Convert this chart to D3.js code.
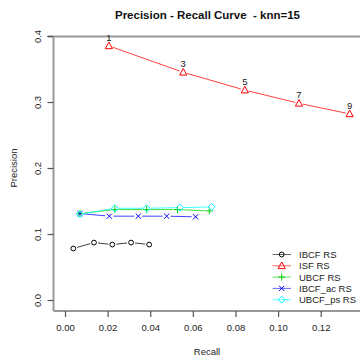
<!DOCTYPE html>
<html>
<head>
<meta charset="utf-8">
<script src="https://cdn.jsdelivr.net/npm/d3@7"></script>
<style>
  html, body { margin: 0; padding: 0; background: #fff; }
  svg { display: block; font-family: "Liberation Sans", Arial, sans-serif; }
  text { white-space: pre; }
</style>
</head>
<body>
<svg id="chart" width="360" height="357"></svg>
<script>
// Precision / recall pairs for each recommender, top-N = 1,3,5,7,9
const seriesNames = ["IBCF RS", "ISF RS", "UBCF RS", "IBCF_ac RS", "UBCF_ps RS"];
const ibcfRecall     = [0.0039, 0.0136, 0.0222, 0.0310, 0.0395];
const ibcfPrecision  = [0.078, 0.087, 0.084, 0.087, 0.084];
const isfRecall      = [0.0206, 0.0555, 0.0844, 0.1098, 0.1336];
const isfPrecision   = [0.385, 0.345, 0.318, 0.298, 0.282];
const ubcfRecall     = [0.0070, 0.0234, 0.0383, 0.0528, 0.0677];
const ubcfPrecision  = [0.131, 0.137, 0.137, 0.137, 0.135];
const ibcfAcRecall   = [0.0070, 0.0208, 0.0344, 0.0477, 0.0613];
const ibcfAcPrecision= [0.131, 0.127, 0.127, 0.127, 0.126];
const ubcfPsRecall   = [0.0070, 0.0234, 0.0383, 0.0539, 0.0688];
const ubcfPsPrecision= [0.130, 0.139, 0.139, 0.140, 0.141];
const nLabels = ["1", "3", "5", "7", "9"];
const xTicks = [0, 0.02, 0.04, 0.06, 0.08, 0.10, 0.12];
const yTicks = [0, 0.1, 0.2, 0.3, 0.4];

const colors = ["#000000", "#FF0000", "#00CD00", "#0000FF", "#00FFFF"];
const shapes = ["circle", "triangle", "plus", "cross", "diamond"];

const series = [
  [ibcfRecall, ibcfPrecision],
  [isfRecall, isfPrecision],
  [ubcfRecall, ubcfPrecision],
  [ibcfAcRecall, ibcfAcPrecision],
  [ubcfPsRecall, ubcfPsPrecision]
].map(([r, p], i) => ({
  name: seriesNames[i], color: colors[i], shape: shapes[i],
  pts: r.map((v, j) => ({ x: v, y: p[j] }))
}));

const svg = d3.select("#chart");
const x = d3.scaleLinear().domain([0, 0.12]).range([65, 320.7]);
const y = d3.scaleLinear().domain([0, 0.4]).range([300, 36]);

const frameLeft = 53.5, frameTop = 36.5, frameBottom = 311, frameRight = 362;

// title
svg.append("text").attr("x", 207.5).attr("y", 18.5).attr("text-anchor", "middle")
  .attr("font-size", 11.5).attr("font-weight", "bold").attr("fill", "#111")
  .text("Precision - Recall Curve  - knn=15");

// frame
const frame = svg.append("g").attr("stroke", "#999").attr("stroke-width", 2).attr("fill", "none");
frame.append("line").attr("x1", frameLeft - 6).attr("x2", frameRight).attr("y1", frameTop).attr("y2", frameTop);
frame.append("line").attr("x1", frameLeft).attr("x2", frameLeft).attr("y1", frameTop).attr("y2", frameBottom);
frame.append("line").attr("x1", frameLeft).attr("x2", frameRight).attr("y1", frameBottom).attr("y2", frameBottom);

// axes
const xAxis = svg.append("g").attr("transform", `translate(0,${frameBottom})`)
  .call(d3.axisBottom(x).tickValues(xTicks).tickFormat(d3.format(".2f")).tickSize(6).tickPadding(7));
const yAxis = svg.append("g").attr("transform", `translate(${frameLeft},0)`)
  .call(d3.axisLeft(y).tickValues(yTicks).tickFormat(d3.format(".1f")).tickSize(6).tickPadding(4));
[xAxis, yAxis].forEach(g => {
  g.select(".domain").remove();
  g.selectAll(".tick line").attr("stroke", "#555").attr("stroke-width", 1.2);
  g.selectAll(".tick text").attr("font-size", 9.5).attr("fill", "#222")
    .attr("font-family", "Liberation Sans, Arial, sans-serif");
});
yAxis.selectAll(".tick text")
  .attr("transform", "rotate(-90)")
  .attr("x", 0).attr("y", -13).attr("dy", 0)
  .attr("text-anchor", "middle");

// axis titles
svg.append("text").attr("x", 207).attr("y", 355).attr("text-anchor", "middle")
  .attr("font-size", 9.5).attr("fill", "#222").text("Recall");
svg.append("text").attr("transform", "translate(17,168) rotate(-90)").attr("text-anchor", "middle")
  .attr("font-size", 9.5).attr("fill", "#222").text("Precision");

// marker shapes
function markerPath(shape) {
  const s = 3;
  switch (shape) {
    case "circle": return d3.arc()({ innerRadius: 0, outerRadius: 2.4, startAngle: 0, endAngle: 2 * Math.PI });
    case "triangle": return `M0,${-s - 0.8}L${s + 0.6},${s - 0.2}L${-s - 0.6},${s - 0.2}Z`;
    case "plus": return `M${-s - 0.5},0H${s + 0.5}M0,${-s - 0.5}V${s + 0.5}`;
    case "cross": return `M${-s + 0.4},${-s + 0.4}L${s - 0.4},${s - 0.4}M${-s + 0.4},${s - 0.4}L${s - 0.4},${-s + 0.4}`;
    case "diamond": return `M0,${-s - 0.5}L${s + 0.5},0L0,${s + 0.5}L${-s - 0.5},0Z`;
  }
}

// lines with gaps around each point
const gap = 4;
series.forEach(s => {
  const g = svg.append("g");
  for (let i = 0; i < s.pts.length - 1; i++) {
    const x1 = x(s.pts[i].x), y1 = y(s.pts[i].y), x2 = x(s.pts[i + 1].x), y2 = y(s.pts[i + 1].y);
    const len = Math.hypot(x2 - x1, y2 - y1);
    if (len <= 2 * gap) continue;
    const ux = (x2 - x1) / len, uy = (y2 - y1) / len;
    g.append("line")
      .attr("x1", x1 + ux * gap).attr("y1", y1 + uy * gap)
      .attr("x2", x2 - ux * gap).attr("y2", y2 - uy * gap)
      .attr("stroke", s.color).attr("stroke-width", 1).attr("stroke-opacity", 0.75);
  }
  g.selectAll("path").data(s.pts).join("path")
    .attr("transform", d => `translate(${x(d.x)},${y(d.y)})`)
    .attr("d", markerPath(s.shape))
    .attr("fill", "none").attr("stroke", s.color).attr("stroke-width", 1);
});

// top-N labels on the ISF curve
svg.append("g").selectAll("text").data(series[1].pts).join("text")
  .attr("x", d => x(d.x)).attr("y", d => y(d.y) - 5)
  .attr("text-anchor", "middle").attr("font-size", 9.5).attr("fill", "#222")
  .text((d, i) => nLabels[i]);

// legend
const legend = svg.append("g");
series.forEach((s, i) => {
  const ly = 254.5 + i * 11.3;
  legend.append("line").attr("x1", 272.5).attr("x2", 291).attr("y1", ly).attr("y2", ly)
    .attr("stroke", s.color).attr("stroke-width", 1).attr("stroke-opacity", 0.6);
  legend.append("path").attr("transform", `translate(281.7,${ly})`)
    .attr("d", markerPath(s.shape)).attr("fill", "none").attr("stroke", s.color);
  legend.append("text").attr("x", 299).attr("y", ly + 3.4).attr("font-size", 9.5)
    .attr("fill", "#222").text(s.name);
});
</script>
</body>
</html>
